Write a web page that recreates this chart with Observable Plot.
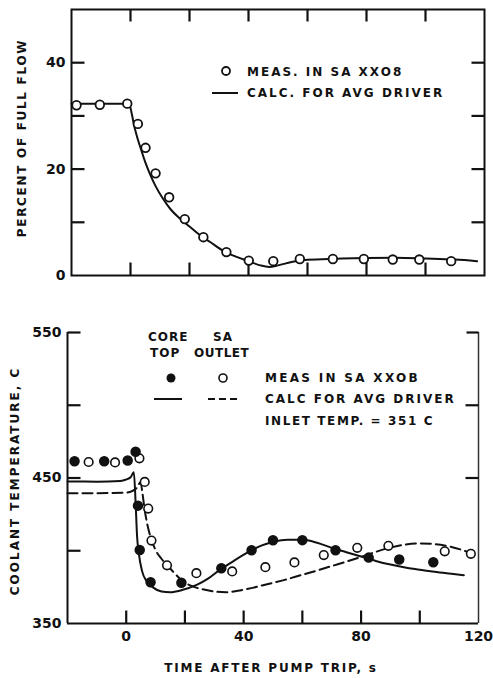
<!DOCTYPE html>
<html><head><meta charset="utf-8">
<script src="https://cdn.jsdelivr.net/npm/d3@7"></script>
<script src="https://cdn.jsdelivr.net/npm/@observablehq/plot@0.6"></script>
<style>
body{margin:0;background:#fff;}
#wrap{position:relative;width:493px;height:678px;background:#fff;font-family:"DejaVu Sans",sans-serif;font-weight:bold;color:#111;overflow:hidden}
.t{position:absolute;white-space:nowrap;font-size:12px;line-height:14px;height:14px;letter-spacing:2px}
.rot{transform:translate(-50%,-50%) rotate(-90deg)}
.ctr{transform:translate(-50%,-50%)}
#wrap svg.plotbox{position:absolute;left:0}
.leg{position:absolute;left:0;top:0;overflow:visible}
</style></head>
<body><div id="wrap"></div>
<script>
// ---------- data ----------
// Upper panel: percent of full flow
const flowMeasTime = [-18.3, -10.4, -1.1, 2.5, 5.1, 8.5, 13.1, 18.4, 24.7, 32.5, 40.1, 48.4, 57.4, 68.6, 79.1, 88.9, 97.9, 108.7];
const flowMeasPct  = [32.0, 32.1, 32.3, 28.5, 24.0, 19.2, 14.7, 10.6, 7.2, 4.4, 2.8, 2.7, 3.1, 3.1, 3.1, 3.0, 3.0, 2.7];
const flowCalcTime = [-20, -0.5, 0.5, 1.1, 2, 3.4, 5, 6.5, 8.5, 10.7, 13.5, 17, 20, 23.5, 27, 31.6, 36, 40, 44, 47, 50, 55, 60, 70, 80, 90, 100, 110, 117.5];
const flowCalcPct  = [32.3, 32.3, 30.2, 28.5, 26.5, 24.0, 21.3, 19.2, 16.8, 14.7, 12.5, 10.6, 9.2, 7.6, 6.3, 4.6, 3.5, 2.7, 1.9, 1.6, 1.9, 2.6, 2.95, 3.15, 3.3, 3.35, 3.2, 3.0, 2.7];

// Lower panel: coolant temperature
const coreMeasTime = [-17.6, -7.5, 0.5, 3.2, 4.0, 4.6, 8.3, 18.8, 32.4, 42.7, 50.0, 60.0, 71.3, 82.6, 93.0, 104.6];
const coreMeasTemp = [461.5, 461.5, 462, 468, 431, 400.5, 378.4, 378, 388, 400.3, 407.2, 407.3, 400.3, 395.3, 394, 392.1];
const saMeasTime = [-12.8, -3.8, 4.5, 6.3, 7.5, 8.6, 13.9, 23.9, 36.1, 47.4, 57.3, 67.3, 78.7, 89.3, 108.5, 117.4];
const saMeasTemp = [461, 460.7, 463.5, 447.3, 429, 407, 390, 384.6, 385.8, 388.7, 392, 397, 402, 403.4, 399.6, 397.9];
const coreCalcTime = [-20, -10, -2, 0, 1.5, 2.6, 3.2, 3.7, 4.3, 5.4, 7, 9, 12, 15, 19, 24, 28, 32, 37, 42, 46, 50, 55, 60, 65, 70, 75, 80, 85, 90, 95, 100, 105, 110, 115];
const coreCalcTemp = [447.6, 447.5, 448, 449, 450.5, 454, 433, 410, 398, 386, 379, 375, 372, 371.5, 373, 376.5, 381, 387, 393.5, 399.5, 403.5, 406, 407.5, 407.5, 405.5, 402, 399, 396, 393, 390.5, 388.5, 387, 385.5, 384.3, 383.2];
const saCalcTime = [-20, -10, 0, 2, 3.5, 4.9, 5.5, 6.3, 7.2, 8.5, 10, 12, 14, 16.5, 19, 22, 26, 30, 34, 38, 43, 48, 54, 60, 65, 70, 75, 80, 85, 90, 95, 100, 105, 110, 114, 118];
const saCalcTemp = [439.6, 439.6, 440, 441, 443, 447, 440, 428, 418, 408, 400.5, 394.5, 390, 384.5, 379.5, 376, 373.5, 372, 371.5, 372.5, 374.5, 377, 380, 383.5, 386.4, 389.5, 392.5, 395.8, 399.2, 402.2, 404.2, 405, 404.6, 403, 400.8, 398];

// axes
const timeDomain = [-20, 120];
const flowDomain = [0, 50];
const tempDomain = [350, 550];
const flowLabelTicks = [0, 20, 40];
const flowTicks = [10, 20, 30, 40];
const timeTicks = [0, 20, 40, 60, 80, 100];
const timeLabelTicks = [0, 40, 80, 120];
const tempLabelTicks = [350, 450, 550];
const tempLeftTicks = [400, 450, 500];
const tempRightTicks = [450, 500];

const zip = (xs, ys) => xs.map((t, i) => ({t, v: ys[i]}));
const flowMeas = zip(flowMeasTime, flowMeasPct);
const flowCalc = zip(flowCalcTime, flowCalcPct);
const coreMeas = zip(coreMeasTime, coreMeasTemp);
const saMeas = zip(saMeasTime, saMeasTemp);
const coreCalc = zip(coreCalcTime, coreCalcTemp);
const saCalc = zip(saCalcTime, saCalcTemp);

const INK = "#111";
// inward tick symbols (fixed pixel length)
const mkTick = (dx, dy) => ({draw(ctx) { ctx.moveTo(0, 0); ctx.lineTo(dx, dy); }});
const dirs = {left: [13, 0, "y"], right: [-13, 0, "y"], top: [0, 12, "x"], bottom: [0, -13, "x"]};
function inward(vals, side) {
  const [dx, dy, ch] = dirs[side];
  return Plot.dot(vals, {[ch]: d => d, frameAnchor: side, symbol: mkTick(dx, dy), r: 3, fill: "none", stroke: INK, strokeWidth: 2.2});
}
function corner(anchor, dx) {
  return Plot.dot([0], {frameAnchor: anchor, symbol: mkTick(dx, 0), r: 3, fill: "none", stroke: INK, strokeWidth: 2.2});
}
const style = {fontFamily: "'DejaVu Sans', sans-serif", fontSize: "14px", fontWeight: "bold", color: INK, background: "transparent", overflow: "visible"};

const topPlot = Plot.plot({
  width: 493, height: 290,
  marginLeft: 71, marginRight: 9, marginTop: 9, marginBottom: 15,
  x: {domain: timeDomain, axis: null},
  y: {domain: flowDomain},
  style,
  marks: [
    Plot.axisY(flowLabelTicks, {tickSize: 0, tickPadding: 6, label: null}),
    Plot.frame({stroke: INK, strokeWidth: 2}),
    inward(timeTicks, "top"),
    inward(timeTicks, "bottom"),
    inward(flowTicks, "left"),
    inward(flowTicks, "right"),
    Plot.line(flowCalc, {x: "t", y: "v", curve: "monotone-x", stroke: INK, strokeWidth: 2}),
    Plot.dot(flowMeas, {x: "t", y: "v", r: 4.3, fill: "white", stroke: INK, strokeWidth: 1.8})
  ]
});

const botPlot = Plot.plot({
  width: 493, height: 378,
  marginLeft: 67, marginRight: 15, marginTop: 32, marginBottom: 55,
  x: {domain: timeDomain},
  y: {domain: tempDomain},
  style,
  marks: [
    Plot.axisY(tempLabelTicks, {tickSize: 0, tickPadding: 6, label: null}),
    Plot.axisX(timeLabelTicks, {tickSize: 0, tickPadding: 8, label: null}),
    Plot.ruleX([timeDomain[0]], {stroke: INK, strokeWidth: 2}),
    Plot.ruleX([timeDomain[1]], {stroke: "#333", strokeWidth: 1.5}),
    Plot.ruleY([tempDomain[0]], {stroke: INK, strokeWidth: 2}),
    corner("top-left", 13),
    corner("top-right", -12),
    inward(timeTicks, "bottom"),
    inward(tempLeftTicks, "left"),
    inward(tempRightTicks, "right"),
    Plot.line(saCalc, {x: "t", y: "v", curve: "monotone-x", stroke: INK, strokeWidth: 2, strokeDasharray: "10,5"}),
    Plot.line(coreCalc, {x: "t", y: "v", curve: "monotone-x", stroke: INK, strokeWidth: 2}),
    Plot.dot(saMeas, {x: "t", y: "v", r: 4.3, fill: "white", stroke: INK, strokeWidth: 1.6}),
    Plot.dot(coreMeas, {x: "t", y: "v", r: 4.5, fill: INK, stroke: INK})
  ]
});

const wrap = document.getElementById("wrap");
topPlot.classList.add("plotbox"); topPlot.style.top = "0px";
botPlot.classList.add("plotbox"); botPlot.style.top = "300px";
wrap.appendChild(topPlot);
wrap.appendChild(botPlot);

// ---------- titles and legends ----------
function txt(s, x, y, cls = "") {
  const d = document.createElement("div");
  d.className = "t " + cls;
  d.textContent = s;
  d.style.left = x + "px";
  d.style.top = (cls ? y : y - 7) + "px";
  wrap.appendChild(d);
  return d;
}
txt("PERCENT OF FULL FLOW", 22, 138, "rot").style.letterSpacing = "1.7px";
txt("MEAS. IN SA XXO8", 247, 72);
txt("CALC. FOR AVG DRIVER", 247, 93);

txt("COOLANT TEMPERATURE, C", 15, 481, "rot");
txt("CORE", 148, 337).style.letterSpacing = "1px";
txt("SA", 213, 337).style.letterSpacing = "1px";
txt("TOP", 150, 353).style.letterSpacing = "1px";
txt("OUTLET", 194, 353).style.letterSpacing = "0.5px";
txt("MEAS IN SA XXOB", 265, 378).style.letterSpacing = "2.3px";
txt("CALC FOR AVG DRIVER", 265, 399);
txt("INLET TEMP. = 351 C", 265, 421).style.letterSpacing = "1.6px";
txt("TIME AFTER PUMP TRIP, s", 271, 668, "ctr").style.letterSpacing = "1.8px";

// legend symbols
const ns = "http://www.w3.org/2000/svg";
const leg = document.createElementNS(ns, "svg");
leg.setAttribute("class", "leg");
leg.setAttribute("width", 493); leg.setAttribute("height", 678);
function el(tag, attrs) { const e = document.createElementNS(ns, tag); for (const k in attrs) e.setAttribute(k, attrs[k]); leg.appendChild(e); }
el("circle", {cx: 226, cy: 71, r: 4, fill: "white", stroke: INK, "stroke-width": 1.8});
el("line", {x1: 212, x2: 238, y1: 93, y2: 93, stroke: INK, "stroke-width": 2});
el("circle", {cx: 171, cy: 378, r: 4.5, fill: INK});
el("circle", {cx: 223, cy: 378, r: 4, fill: "white", stroke: INK, "stroke-width": 1.6});
el("line", {x1: 154, x2: 182, y1: 399, y2: 399, stroke: INK, "stroke-width": 2});
el("line", {x1: 208, x2: 238, y1: 399, y2: 399, stroke: INK, "stroke-width": 2, "stroke-dasharray": "7,4"});
wrap.appendChild(leg);
</script></body></html>
